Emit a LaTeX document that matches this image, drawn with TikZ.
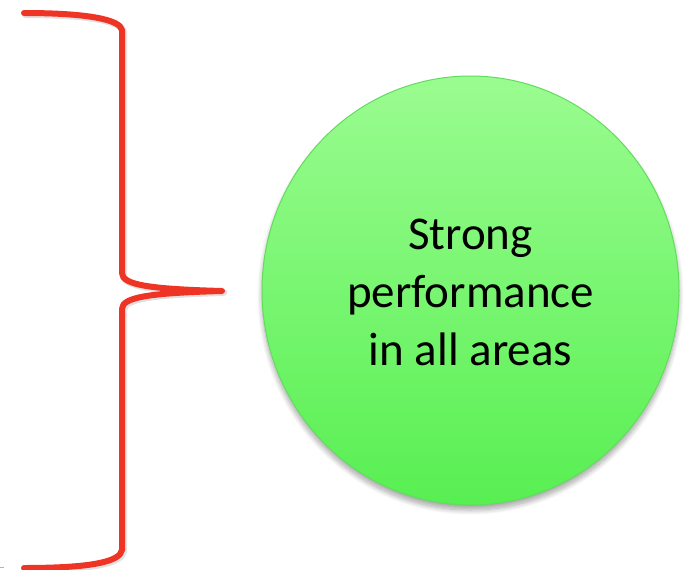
\documentclass[tikz,border=0pt]{standalone}
\usepackage{fontspec}
\setmainfont{Carlito}
\usetikzlibrary{shapes.geometric,shadows.blur}
\definecolor{bracered}{HTML}{EE3424}
\definecolor{gtop}{HTML}{9AFC90}
\definecolor{gbot}{HTML}{58EF52}
\definecolor{gedge}{HTML}{62DC5E}
\tikzset{
  bracestroke/.style={draw=bracered, line width=6pt, line cap=round, line join=round},
  braceshadow/.style={draw=black, opacity=0.12, line width=7pt, line cap=round, line join=round},
  bubble/.style={ellipse, minimum width=417pt, minimum height=429pt, inner sep=0pt,
    top color=gtop, bottom color=gbot, draw=gedge, line width=1pt,
    blur shadow={shadow xshift=0pt, shadow yshift=-5pt, shadow blur steps=10, shadow blur radius=5pt, shadow opacity=35}},
  bubbletext/.style={align=center, text=black, font=\fontsize{47}{58}\selectfont}
}
\begin{document}
\begin{tikzpicture}[x=1pt,y=-1pt]
\useasboundingbox (0,0) rectangle (683,570);
% brace shadow
\begin{scope}[xshift=1.5pt, yshift=-1.5pt]
\draw[braceshadow] (24,13) .. controls (90,13) and (120,20) .. (122,30)
  -- (122,273) .. controls (122,285) and (150,289) .. (222,291)
  .. controls (150,293) and (122,297) .. (122,309)
  -- (122,550) .. controls (120,562) and (90,568) .. (24,568);
\end{scope}
% brace
\draw[bracestroke] (24,13) .. controls (90,13) and (120,20) .. (122,30)
  -- (122,273) .. controls (122,285) and (150,289) .. (222,291) coordinate (tip)
  .. controls (150,293) and (122,297) .. (122,309)
  -- (122,550) .. controls (120,562) and (90,568) .. (24,568);
% circle
\node[bubble] (circ) at (470.5,290.5) {};
\node[bubbletext] (label) at (470.5,292) {Strong\\performance\\in all areas};
% small grey mark
\draw[gray!60, line width=1.5pt] (0,567.5) -- (4,567.5);
\end{tikzpicture}
\end{document}
